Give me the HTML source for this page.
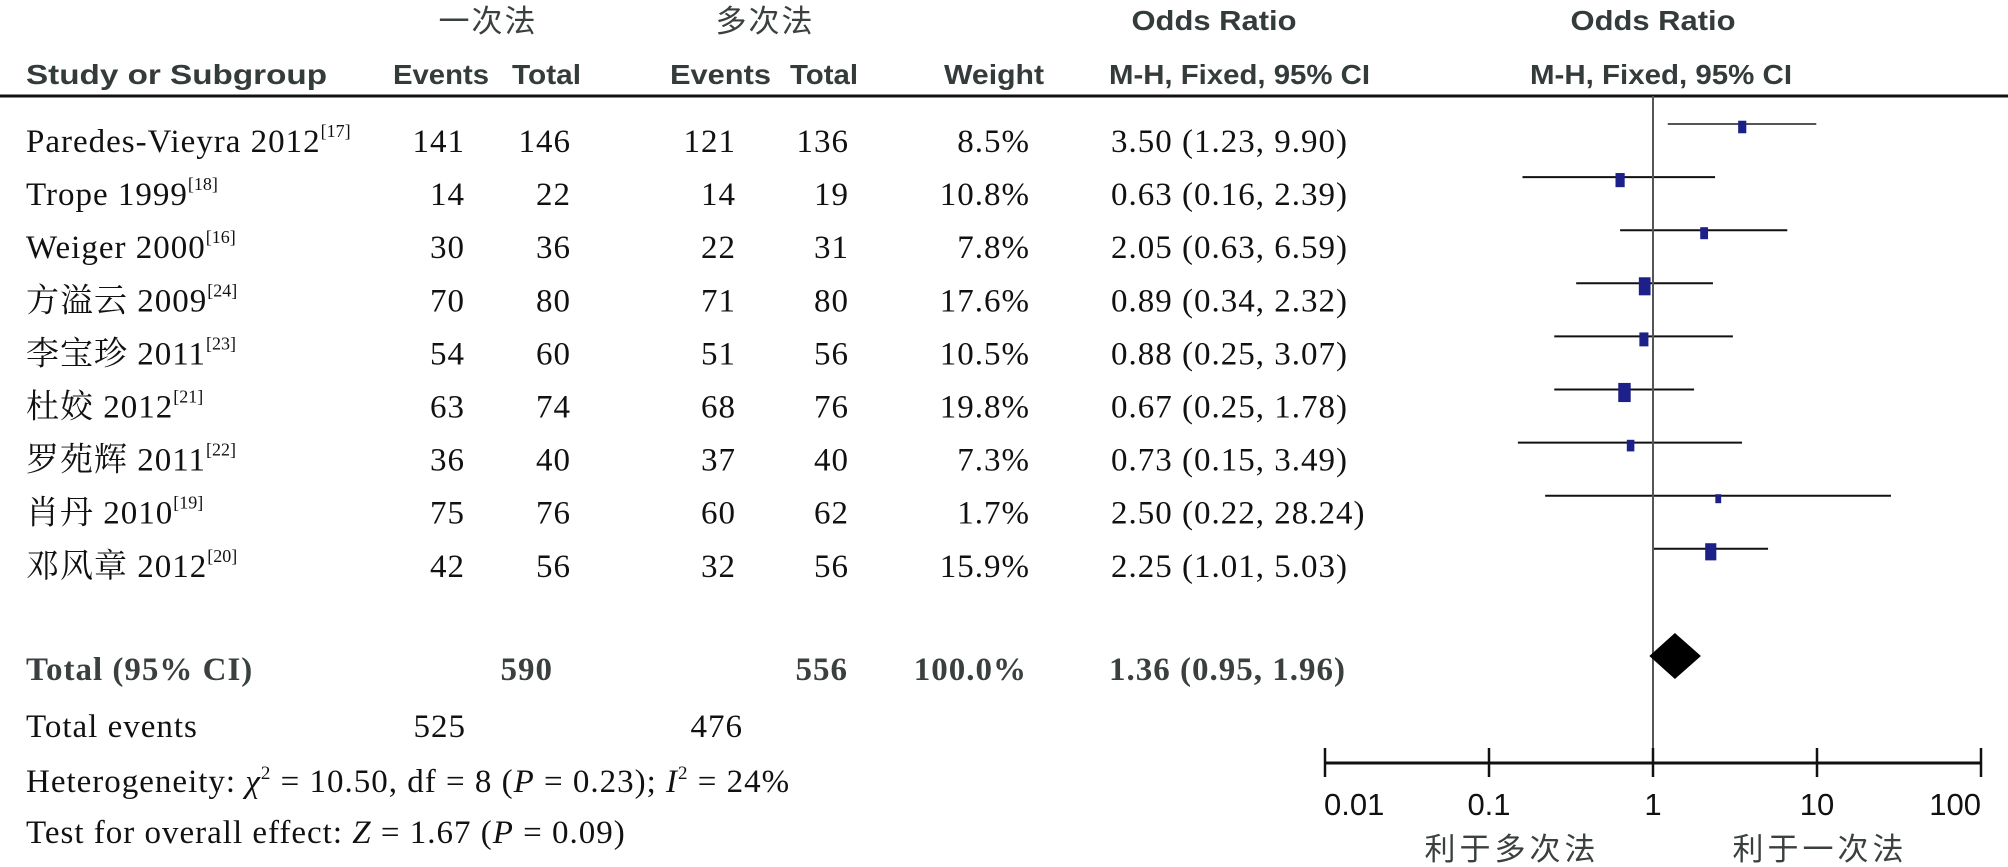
<!DOCTYPE html>
<html><head><meta charset="utf-8">
<style>
html,body{margin:0;padding:0;background:#fff;}
svg{display:block;}
.hd{font-family:"Liberation Sans","Noto Sans CJK SC",sans-serif;font-weight:bold;font-size:28px;fill:#343b3b;}
.cn{font-family:"Noto Sans CJK SC","WenQuanYi Zen Hei",sans-serif;font-size:31px;fill:#3a3f3f;}
.tx{font-family:"Liberation Serif","Noto Serif CJK SC",serif;font-size:33px;letter-spacing:1px;fill:#111;}
.bd{font-family:"Liberation Serif","Noto Serif CJK SC",serif;font-size:33px;letter-spacing:1px;font-weight:bold;fill:#3a3f3f;}
.ax{font-family:"Liberation Sans",sans-serif;font-size:31px;fill:#111;}
</style></head>
<body>
<svg id="plot" width="2008" height="867" viewBox="0 0 2008 867" xmlns="http://www.w3.org/2000/svg">
<g>
<text class="cn" x="488" y="32" text-anchor="middle" letter-spacing="2">一次法</text>
<text class="cn" x="765" y="32" text-anchor="middle" letter-spacing="2">多次法</text>
<text class="hd" x="1214" y="30" text-anchor="middle" textLength="165" lengthAdjust="spacingAndGlyphs">Odds Ratio</text>
<text class="hd" x="1653" y="30" text-anchor="middle" textLength="165" lengthAdjust="spacingAndGlyphs">Odds Ratio</text>
<text class="hd" x="26" y="84" textLength="301" lengthAdjust="spacingAndGlyphs">Study or Subgroup</text>
<text class="hd" x="393" y="84" textLength="96" lengthAdjust="spacingAndGlyphs">Events</text>
<text class="hd" x="512" y="84" textLength="69" lengthAdjust="spacingAndGlyphs">Total</text>
<text class="hd" x="670" y="84" textLength="101" lengthAdjust="spacingAndGlyphs">Events</text>
<text class="hd" x="790" y="84" textLength="68" lengthAdjust="spacingAndGlyphs">Total</text>
<text class="hd" x="944" y="84" textLength="100" lengthAdjust="spacingAndGlyphs">Weight</text>
<text class="hd" x="1109" y="84" textLength="261" lengthAdjust="spacingAndGlyphs">M-H, Fixed, 95% CI</text>
<text class="hd" x="1530" y="84" textLength="262" lengthAdjust="spacingAndGlyphs">M-H, Fixed, 95% CI</text>
<line x1="0" y1="96" x2="2008" y2="96" stroke="#111" stroke-width="3"/>
</g>
<g id="rows"></g>
<g id="forest"></g>
<g id="foot">
<text class="tx" x="26" y="737">Total events</text>
<text class="tx" x="26" y="792">Heterogeneity: <tspan font-style="italic">χ</tspan><tspan font-size="19" dy="-13">2</tspan><tspan dy="13"> = 10.50, df = 8 (</tspan><tspan font-style="italic">P</tspan> = 0.23); <tspan font-style="italic">I</tspan><tspan font-size="19" dy="-13">2</tspan><tspan dy="13"> = 24%</tspan></text>
<text class="tx" x="26" y="843">Test for overall effect: <tspan font-style="italic">Z</tspan> = 1.67 (<tspan font-style="italic">P</tspan> = 0.09)</text>
<text class="cn" x="1512" y="860" text-anchor="middle" letter-spacing="4">利于多次法</text>
<text class="cn" x="1820" y="860" text-anchor="middle" letter-spacing="4">利于一次法</text>
</g>
</svg>
<script>
const studies = ["Paredes-Vieyra 2012","Trope 1999","Weiger 2000","方溢云 2009","李宝珍 2011","杜姣 2012","罗苑辉 2011","肖丹 2010","邓风章 2012"];
const refs = ["17","18","16","24","23","21","22","19","20"];
const events1 = [141,14,30,70,54,63,36,75,42];
const total1 = [146,22,36,80,60,74,40,76,56];
const events2 = [121,14,22,71,51,68,37,60,32];
const total2 = [136,19,31,80,56,76,40,62,56];
const weights = [8.5,10.8,7.8,17.6,10.5,19.8,7.3,1.7,15.9];
const oddsRatio = [3.50,0.63,2.05,0.89,0.88,0.67,0.73,2.50,2.25];
const ciLow = [1.23,0.16,0.63,0.34,0.25,0.25,0.15,0.22,1.01];
const ciHigh = [9.90,2.39,6.59,2.32,3.07,1.78,3.49,28.24,5.03];
const pooled = [1.36,0.95,1.96];
const pooledTotals = [590,556];
const totalEvents = [525,476];
const axisTicks = [0.01,0.1,1,10,100];
const tickLabels = ["0.01","0.1","1","10","100"];

const NS="http://www.w3.org/2000/svg";
const x0=1653, dec=164, rowY0=124, rowH=53.1, axisY=763;
function xs(v){return x0+Math.log10(v)*dec;}
function ys(i){return rowY0+i*rowH;}
function mk(tag,attrs,parent,txt){const e=document.createElementNS(NS,tag);for(const k in attrs)e.setAttribute(k,attrs[k]);if(txt!==undefined)e.textContent=txt;parent.appendChild(e);return e;}
const rows=document.getElementById('rows'), forest=document.getElementById('forest'), foot=document.getElementById('foot');
function f2(v){return v.toFixed(2);}

studies.forEach((s,i)=>{
  const by=ys(i)+28;
  const t=mk('text',{class:'tx',x:26,y:by},rows);
  
  
  mk('tspan',{},t,s);
  mk('tspan',{'font-size':18,dy:-15,'letter-spacing':0},t,"["+refs[i]+"]");
  const cols=[[events1[i],465],[total1[i],571],[events2[i],736],[total2[i],849],[weights[i].toFixed(1)+"%",1030]];
  const names=['events1','total1','events2','total2','weight'];
  cols.forEach((c,j)=>{
    const e=mk('text',{class:'tx',x:c[1],y:by,'text-anchor':'end'},rows,String(c[0]));
    
    
  });
  const ci=mk('text',{class:'tx',x:1111,y:by},rows,f2(oddsRatio[i])+" ("+f2(ciLow[i])+", "+f2(ciHigh[i])+")");
  
  
  const y=ys(i);
  const ln=mk('line',{x1:xs(ciLow[i]),x2:xs(ciHigh[i]),y1:y,y2:y,stroke:i===0?'#555':'#111','stroke-width':2},forest);
  
  
  const h=Math.max(9,4.3*Math.sqrt(weights[i])), w=Math.max(3,0.65*h);
  const r=mk('rect',{x:xs(oddsRatio[i])-w/2,y:y+3-h/2,width:w,height:h,fill:'#1c2088'},forest);
  
  
});

const ty=680;
[["Total (95% CI)",26,'start','total-label'],[String(pooledTotals[0]),553,'end','total1-sum'],[String(pooledTotals[1]),848,'end','total2-sum'],["100.0%",1027,'end','total-weight'],[f2(pooled[0])+" ("+f2(pooled[1])+", "+f2(pooled[2])+")",1109,'start','pooled-or']].forEach(c=>{
  const e=mk('text',{class:'bd',x:c[1],y:ty,'text-anchor':c[2]},foot,c[0]);
  
  
});
[[totalEvents[0],466],[totalEvents[1],743]].forEach(c=>{
  const e=mk('text',{class:'tx',x:c[1],y:737,'text-anchor':'end'},foot,String(c[0]));
  
  
});

const vl=mk('line',{x1:xs(1),x2:xs(1),y1:96,y2:axisY,stroke:'#555','stroke-width':2},forest);


const dy=656, dh=23;
const dm=mk('polygon',{points:`${xs(pooled[1])},${dy} ${xs(pooled[0])},${dy-dh} ${xs(pooled[2])},${dy} ${xs(pooled[0])},${dy+dh}`,fill:'#000'},forest);


const al=mk('line',{x1:xs(axisTicks[0]),x2:xs(axisTicks[axisTicks.length-1]),y1:axisY,y2:axisY,stroke:'#111','stroke-width':3},forest);


axisTicks.forEach((v,i)=>{
  const tk=mk('line',{x1:xs(v),x2:xs(v),y1:axisY-15,y2:axisY+14,stroke:'#111','stroke-width':2.5},forest);
  
  
  const anc=i===0?'start':(i===axisTicks.length-1?'end':'middle');
  const lb=mk('text',{class:'ax',x:xs(v)+(i===0?-1:0),y:815,'text-anchor':anc},forest,tickLabels[i]);
  
  
});
</script>
</body></html>
